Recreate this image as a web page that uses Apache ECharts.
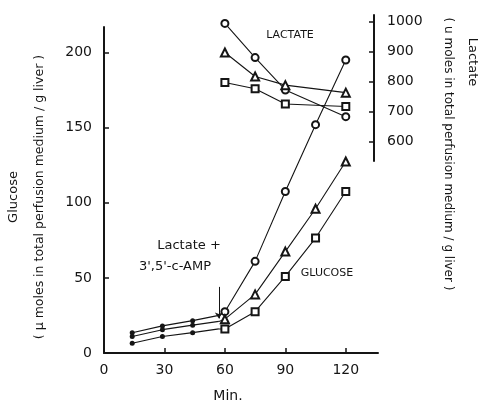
<!DOCTYPE html>
<html>
<head>
<meta charset="utf-8">
<script src="https://cdn.jsdelivr.net/npm/echarts@6/dist/echarts.min.js"></script>
<style>html,body{margin:0;background:#fff}#chart{width:480px;height:406px}</style>
</head>
<body>
<div id="chart"></div>
<script>
// tick labels
var xTicks = [0, 30, 60, 90, 120];
var glucoseTicks = [0, 50, 100, 150, 200];
var lactateTicks = [600, 700, 800, 900, 1000];

// glucose before addition (filled dots)
var preMin = [14, 29, 44, 57];
var preTop = [13.5, 18, 21.5, 25];
var preMid = [11, 15.5, 18.5, 21];
var preLow = [6.5, 11, 13.5, 16];

// glucose after lactate + cAMP
var postMin = [60, 75, 90, 105, 120];
var glucoseCircle = [27.5, 61, 107.5, 152, 195];
var glucoseTriangle = [22.5, 39, 67.5, 96, 127.5];
var glucoseSquare = [16, 27.5, 51, 76.5, 107.5];

// lactate (right axis)
var lactateMin = [60, 75, 90, 120];
var lactateCircle = [994, 880, 772, 683];
var lactateTriangle = [897, 817, 788, 763];
var lactateSquare = [797, 776, 725, 717];

var ink = '#151515';
var font = 'DejaVu Sans';

function pairs(xs, ys) {
  var out = [];
  for (var i = 0; i < xs.length; i++) out.push([xs[i], ys[i]]);
  return out;
}

function onlyTicks(list) {
  return function (v) { return list.indexOf(v) >= 0 ? String(v) : ''; };
}

function preSeries(ys) {
  var d = pairs(preMin, ys);
  d[d.length - 1] = { value: d[d.length - 1], symbol: 'none' };
  return {
    type: 'line', xAxisIndex: 0, yAxisIndex: 0, data: d,
    symbol: 'circle', symbolSize: 5,
    itemStyle: { color: ink }, lineStyle: { color: ink, width: 1.2 }
  };
}

function postSeries(startY, ys, sym, size) {
  var d = [{ value: [preMin[preMin.length - 1], startY], symbol: 'none' }].concat(pairs(postMin, ys));
  return {
    type: 'line', xAxisIndex: 0, yAxisIndex: 0, data: d,
    symbol: sym, symbolSize: size,
    itemStyle: { color: ink, borderWidth: 1 },
    lineStyle: { color: ink, width: 1.1 }
  };
}

function lacSeries(ys, sym, size) {
  return {
    type: 'line', xAxisIndex: 1, yAxisIndex: 1, data: pairs(lactateMin, ys),
    symbol: sym, symbolSize: size,
    itemStyle: { color: ink, borderWidth: 1 },
    lineStyle: { color: ink, width: 1.1 }
  };
}

function txt(x, y, s, size, rot) {
  return {
    type: 'text', x: x, y: y, rotation: rot || 0,
    style: { text: s, fill: ink, font: size + 'px "' + font + '"', align: 'center', verticalAlign: 'middle' }
  };
}

var topSeries = preSeries(preTop);
topSeries.markLine = {
  silent: true, symbol: ['none', 'arrow'], symbolSize: 6,
  label: { show: false },
  lineStyle: { color: ink, width: 1, type: 'solid' },
  data: [[{ coord: [57, 44] }, { coord: [57, 23] }]]
};

var chart = echarts.init(document.getElementById('chart'));
chart.setOption({
  backgroundColor: '#fff',
  animation: false,
  grid: [
    { left: 104, right: 102, top: 27, bottom: 53 },
    { left: 104, right: 106, top: 15, bottom: 245 }
  ],
  xAxis: [{
    gridIndex: 0, type: 'value', min: 0, max: 136, interval: 30,
    axisLine: { onZero: false, lineStyle: { color: ink, width: 2 } },
    axisTick: { inside: true, length: 5, lineStyle: { color: ink, width: 1.5 } },
    axisLabel: { formatter: onlyTicks(xTicks), showMaxLabel: false, color: ink, fontSize: 14, fontFamily: font, margin: 10 },
    splitLine: { show: false }
  }, {
    gridIndex: 1, type: 'value', min: 0, max: 134, show: false,
    axisLine: { show: false, onZero: false }, axisTick: { show: false }, axisLabel: { show: false }, splitLine: { show: false }
  }],
  yAxis: [{
    gridIndex: 0, type: 'value', min: 0, max: 217, interval: 50,
    axisLine: { show: true, onZero: false, lineStyle: { color: ink, width: 2 } },
    axisTick: { show: true, inside: true, length: 5, lineStyle: { color: ink, width: 1.5 } },
    axisLabel: { formatter: onlyTicks(glucoseTicks), showMaxLabel: false, color: ink, fontSize: 14, fontFamily: font, margin: 12 },
    splitLine: { show: false }
  }, {
    gridIndex: 1, type: 'value', position: 'right', min: 535, max: 1022,
    axisLine: { show: true, onZero: false, lineStyle: { color: ink, width: 2 } },
    axisTick: { show: true, inside: true, length: 5, lineStyle: { color: ink, width: 1.5 } },
    axisLabel: { formatter: onlyTicks(lactateTicks), showMinLabel: false, showMaxLabel: false, color: ink, fontSize: 14, fontFamily: font, margin: 13 },
    splitLine: { show: false }
  }],
  series: [
    topSeries,
    preSeries(preMid),
    preSeries(preLow),
    postSeries(preTop[3], glucoseCircle, 'emptyCircle', 7),
    postSeries(preMid[3], glucoseTriangle, 'emptyTriangle', 8),
    postSeries(preLow[3], glucoseSquare, 'emptyRect', 7),
    lacSeries(lactateCircle, 'emptyCircle', 7),
    lacSeries(lactateTriangle, 'emptyTriangle', 8),
    lacSeries(lactateSquare, 'emptyRect', 7)
  ],
  graphic: [
    txt(14, 197, 'Glucose', 13, Math.PI / 2),
    txt(40, 197, '( μ moles in total perfusion medium / g liver )', 12.5, Math.PI / 2),
    txt(472, 62, 'Lactate', 13, -Math.PI / 2),
    txt(448, 154, '( u moles in total perfusion medium / g liver )', 12, -Math.PI / 2),
    txt(228, 396, 'Min.', 14),
    txt(290, 35, 'LACTATE', 11),
    txt(327, 273, 'GLUCOSE', 11),
    txt(189, 246, 'Lactate +', 13),
    txt(175, 267, "3',5'-c-AMP", 13)
  ]
});
</script>
</body>
</html>
